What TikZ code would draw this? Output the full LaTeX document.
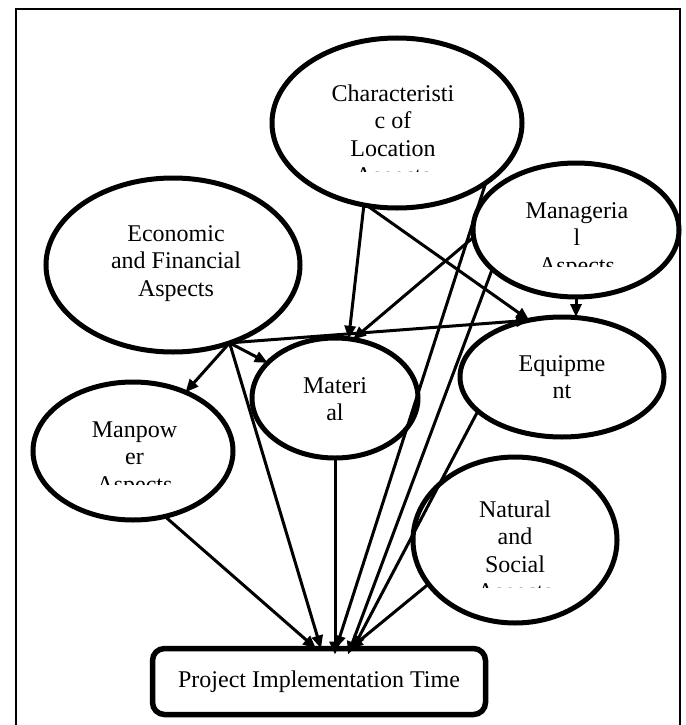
\documentclass[tikz,border=0pt]{standalone}
\usepackage{fontspec}
\setmainfont{Liberation Serif}
\usetikzlibrary{arrows.meta,shapes.geometric,calc}
\begin{document}
\begin{tikzpicture}[x=1pt,y=-1pt,
  ell/.style={draw, ellipse, line width=5pt, inner sep=0pt, outer sep=0pt, fill=white},
  lbl/.style={font=\fontsize{24}{27.6}\selectfont, inner sep=0pt, anchor=base},
  conn/.style={line width=3pt, -{Triangle[length=13pt,width=11pt]}},
  ]
\useasboundingbox (0,0) rectangle (685,725);
\draw[line width=2.5pt] (16,9) rectangle (680,740);

% ellipses
\node[ell, minimum width=250pt, minimum height=170pt] (char) at (397,123) {};
\node[ell, minimum width=206pt, minimum height=134pt] (mgr) at (576,230) {};
\node[ell, minimum width=254pt, minimum height=174pt] (econ) at (173,265) {};
\node[ell, minimum width=200pt, minimum height=138pt] (manp) at (133,451) {};
\node[ell, minimum width=166pt, minimum height=120pt] (mat) at (335,398) {};
\node[ell, minimum width=204pt, minimum height=120pt] (equip) at (562,377) {};
\node[ell, minimum width=204pt, minimum height=166pt] (nat) at (515,540) {};
\node[draw, rounded corners=12pt, line width=5.5pt, minimum width=333pt, minimum height=66pt,
  inner sep=0pt, outer sep=0pt, font=\fontsize{24}{27.6}\selectfont] (box) at (319,681.5) {Project Implementation Time};

% texts
\node[lbl] (charT) at (393,101) {\begin{tabular}[t]{@{}c@{}}Characteristi\\c of\\Location\end{tabular}};
\node[lbl] (mgrT) at (577,218) {\begin{tabular}[t]{@{}c@{}}Manageria\\l\end{tabular}};
\node[lbl] (econT) at (176,241) {\begin{tabular}[t]{@{}c@{}}Economic\\and Financial\\Aspects\end{tabular}};
\node[lbl] (manpT) at (134.5,437) {\begin{tabular}[t]{@{}c@{}}Manpow\\er\end{tabular}};
\node[lbl] (matT) at (335,393) {\begin{tabular}[t]{@{}c@{}}Materi\\al\end{tabular}};
\node[lbl] (equipT) at (562,371) {\begin{tabular}[t]{@{}c@{}}Equipme\\nt\end{tabular}};
\node[lbl] (natT) at (515,517) {\begin{tabular}[t]{@{}c@{}}Natural\\and\\Social\end{tabular}};

% clipped last lines
\begin{scope}
  \clip (300,150) rectangle (490,171);
  \node[lbl] (charA) at (393,183.8) {Aspects};
\end{scope}
\begin{scope}
  \clip (500,250) rectangle (660,266);
  \node[lbl] (mgrA) at (577,273.2) {Aspects};
\end{scope}
\begin{scope}
  \clip (60,470) rectangle (210,484);
  \node[lbl] (manpA) at (134.5,492.2) {Aspects};
\end{scope}
\begin{scope}
  \clip (440,578) rectangle (600,587);
  \node[lbl] (natA) at (515,599.8) {Aspects};
\end{scope}

% connectors
\draw[conn] (econ.-54) -- (manp);
\draw[conn] (econ.-54) -- (mat);
\draw[conn] (econ.-54) -- (equip.120);
\draw[conn] (econ.-54) -- ([xshift=2pt]box.north);
\draw[conn] (char.-112) -- (mat.77);
\draw[conn] (mgr.184) -- (mat.73);
\draw[conn] (char.-110) -- (equip.120);
\draw[conn] (mgr.south) -- (mgr.south |- equip.north);
\draw[conn] (char.-34) -- ([xshift=17pt]box.north);
\draw[conn] (mgr.-155) -- ($([xshift=29pt]box.north)+(0,6)$);
\draw[conn] (equip.-158) -- ([xshift=34pt]box.north);
\draw[conn] (nat.-153) -- ([xshift=31pt]box.north);
\draw[conn] (mat.south) -- ($(mat.south |- box.north)+(0,6)$);
\draw[conn] (manp.-64) -- ([xshift=-3pt]box.north);
\end{tikzpicture}
\end{document}
